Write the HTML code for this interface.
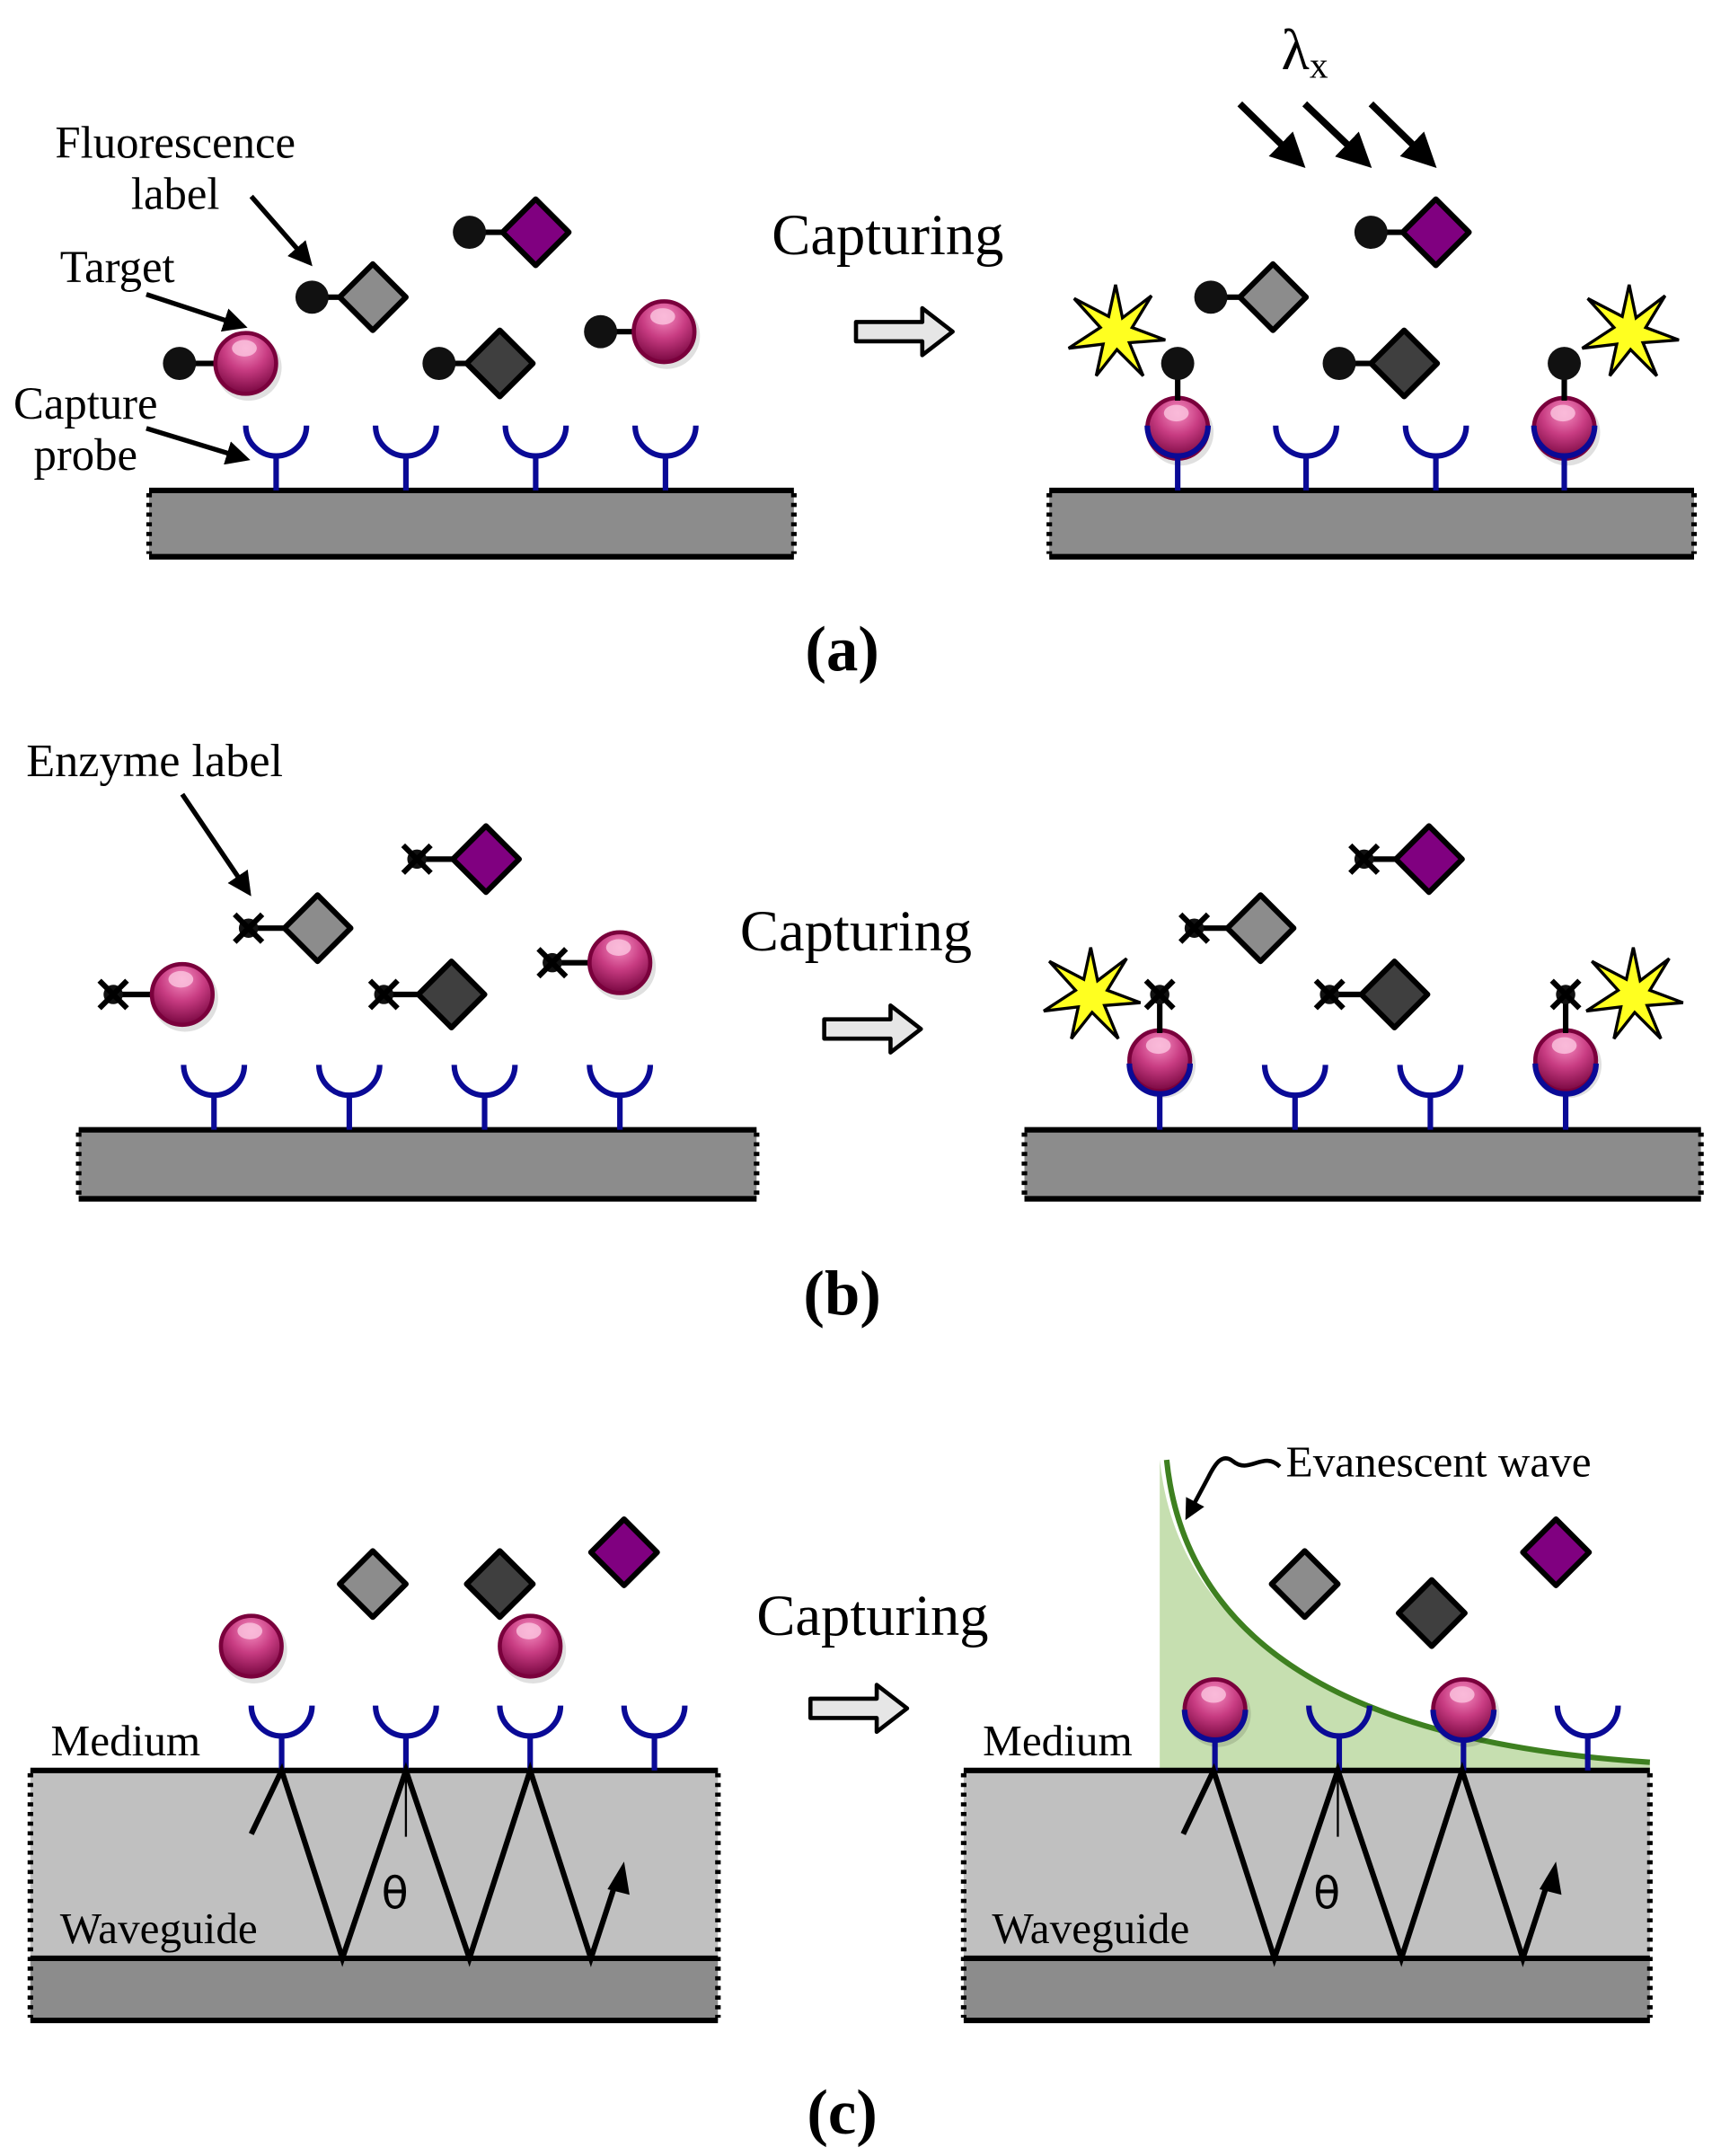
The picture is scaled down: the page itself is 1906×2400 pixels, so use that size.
<!DOCTYPE html>
<html><head><meta charset="utf-8"><style>html,body{margin:0;padding:0;background:#fff}svg{display:block}</style></head><body>
<svg width="1906" height="2400" viewBox="0 0 1240 1561" xmlns="http://www.w3.org/2000/svg" font-family="'Liberation Serif',serif">
<defs>
<radialGradient id="sp" cx="0.5" cy="0.25" r="0.8"><stop offset="0" stop-color="#f58cc0"/><stop offset="0.45" stop-color="#c83c82"/><stop offset="1" stop-color="#6e0038"/></radialGradient>
<g id="S"><circle cx="2" cy="3" r="24" fill="#000" opacity="0.12"/><circle r="22" fill="url(#sp)" stroke="#7a003c" stroke-width="3"/><ellipse cx="-1" cy="-11" rx="9" ry="6" fill="#fbc6e0" opacity="0.8"/></g>
<g id="DL"><path d="M-24 0L0-24L24 0L0 24Z" fill="#8c8c8c" stroke="#000" stroke-width="4" stroke-linejoin="round"/></g>
<g id="DD"><path d="M-24 0L0-24L24 0L0 24Z" fill="#3f3f3f" stroke="#000" stroke-width="4" stroke-linejoin="round"/></g>
<g id="DP"><path d="M-24 0L0-24L24 0L0 24Z" fill="#800080" stroke="#000" stroke-width="4" stroke-linejoin="round"/></g>
<g id="P"><path d="M-22 -22A22 22 0 0 0 22 -22" fill="none" stroke="#0a0a96" stroke-width="4"/><line x1="0" y1="0" x2="0" y2="25" stroke="#0a0a96" stroke-width="4"/></g>
<g id="E"><circle r="7" fill="#111"/><path d="M-10-10L10 10M10-10L-10 10" stroke="#000" stroke-width="4"/></g>
<g id="ST"><path d="M0-34L5-10 26-26 12-3 36 6 10 8 20 32 1 13-14 32-9 9-34 12-11-3-30-24-5-11Z" fill="#ffff20" stroke="#000" stroke-width="2.2" stroke-linejoin="miter"/></g>
<marker id="ah" viewBox="0 0 10 10" refX="8" refY="5" markerWidth="5" markerHeight="5" orient="auto"><path d="M0 0L10 5L0 10Z" fill="#000"/></marker>
<g id="HA"><path d="M0 10H48V0L70 17L48 34V24H0Z" fill="#e6e6e6" stroke="#000" stroke-width="3" stroke-linejoin="round"/></g>
</defs>

<g stroke="#000">
<rect x="108" y="355" width="467" height="48" fill="#8c8c8c" stroke="none"/>
<line x1="108" y1="355" x2="575" y2="355" stroke-width="4"/><line x1="108" y1="403" x2="575" y2="403" stroke-width="4"/>
<line x1="108" y1="357" x2="108" y2="401" stroke-width="4" stroke-dasharray="3 4"/><line x1="575" y1="357" x2="575" y2="401" stroke-width="4" stroke-dasharray="3 4"/>
<rect x="760" y="355" width="467" height="48" fill="#8c8c8c" stroke="none"/>
<line x1="760" y1="355" x2="1227" y2="355" stroke-width="4"/><line x1="760" y1="403" x2="1227" y2="403" stroke-width="4"/>
<line x1="760" y1="357" x2="760" y2="401" stroke-width="4" stroke-dasharray="3 4"/><line x1="1227" y1="357" x2="1227" y2="401" stroke-width="4" stroke-dasharray="3 4"/>

<rect x="57" y="818" width="491" height="50" fill="#8c8c8c" stroke="none"/>
<line x1="57" y1="818" x2="548" y2="818" stroke-width="4"/><line x1="57" y1="868" x2="548" y2="868" stroke-width="4"/>
<line x1="57" y1="820" x2="57" y2="866" stroke-width="4" stroke-dasharray="3 4"/><line x1="548" y1="820" x2="548" y2="866" stroke-width="4" stroke-dasharray="3 4"/>
<rect x="742" y="818" width="490" height="50" fill="#8c8c8c" stroke="none"/>
<line x1="742" y1="818" x2="1232" y2="818" stroke-width="4"/><line x1="742" y1="868" x2="1232" y2="868" stroke-width="4"/>
<line x1="742" y1="820" x2="742" y2="866" stroke-width="4" stroke-dasharray="3 4"/><line x1="1232" y1="820" x2="1232" y2="866" stroke-width="4" stroke-dasharray="3 4"/>
</g>

<!-- (a) left -->
<use href="#P" x="200" y="330"/><use href="#P" x="294" y="330"/><use href="#P" x="388" y="330"/><use href="#P" x="482" y="330"/>
<g stroke="#000" stroke-width="4"><line x1="130" y1="263" x2="160" y2="263"/><line x1="435" y1="240" x2="460" y2="240"/><line x1="226" y1="215" x2="250" y2="215"/><line x1="318" y1="263" x2="340" y2="263"/><line x1="340" y1="168" x2="365" y2="168"/></g>
<g fill="#111"><circle cx="130" cy="263" r="12"/><circle cx="435" cy="240" r="12"/><circle cx="226" cy="215" r="12"/><circle cx="318" cy="263" r="12"/><circle cx="340" cy="168" r="12"/></g>
<use href="#S" x="178" y="263"/><use href="#S" x="481" y="240"/>
<use href="#DL" x="270" y="215"/><use href="#DD" x="362" y="263"/><use href="#DP" x="388" y="168"/>
<g font-size="33" text-anchor="middle"><text x="127" y="114">Fluorescence</text><text x="127" y="151">label</text><text x="85" y="204">Target</text><text x="62" y="303">Capture</text><text x="62" y="340">probe</text></g>
<g stroke="#000" stroke-width="3.5" marker-end="url(#ah)"><line x1="182" y1="142" x2="224" y2="190"/><line x1="106" y1="213" x2="176" y2="236"/><line x1="106" y1="310" x2="178" y2="332"/></g>
<text x="643" y="184" font-size="42" text-anchor="middle">Capturing</text>
<use href="#HA" x="620" y="223"/>

<!-- (a) right -->
<use href="#P" x="946" y="330"/><use href="#P" x="1040" y="330"/>
<use href="#S" x="853" y="310"/><use href="#S" x="1133" y="310"/>
<g stroke="#0a0a96" stroke-width="4" fill="none"><path d="M831 308A22 22 0 0 0 875 308"/><line x1="853" y1="330" x2="853" y2="355"/><path d="M1111 308A22 22 0 0 0 1155 308"/><line x1="1133" y1="330" x2="1133" y2="355"/></g>
<g stroke="#000" stroke-width="4"><line x1="853" y1="263" x2="853" y2="290"/><line x1="1133" y1="263" x2="1133" y2="290"/><line x1="877" y1="215" x2="900" y2="215"/><line x1="970" y1="263" x2="995" y2="263"/><line x1="993" y1="168" x2="1018" y2="168"/></g>
<g fill="#111"><circle cx="853" cy="263" r="12"/><circle cx="1133" cy="263" r="12"/><circle cx="877" cy="215" r="12"/><circle cx="970" cy="263" r="12"/><circle cx="993" cy="168" r="12"/></g>
<use href="#DL" x="922" y="215"/><use href="#DD" x="1017" y="263"/><use href="#DP" x="1040" y="168"/>
<use href="#ST" x="808" y="240"/><use href="#ST" x="1180" y="240"/>
<text x="945" y="50" font-size="42" text-anchor="middle">λ<tspan font-size="27" dy="6">x</tspan></text>
<g stroke="#000" stroke-width="5" marker-end="url(#ah)"><line x1="898" y1="75" x2="942" y2="118"/><line x1="945" y1="75" x2="990" y2="118"/><line x1="993" y1="75" x2="1037" y2="118"/></g>
<text x="610" y="485" font-size="46" font-weight="bold" text-anchor="middle">(a)</text>

<!-- (b) left -->
<use href="#P" x="155" y="793"/><use href="#P" x="253" y="793"/><use href="#P" x="351" y="793"/><use href="#P" x="449" y="793"/>
<g stroke="#000" stroke-width="4"><line x1="82" y1="720" x2="112" y2="720"/><line x1="400" y1="697" x2="428" y2="697"/><line x1="180" y1="672" x2="208" y2="672"/><line x1="278" y1="720" x2="305" y2="720"/><line x1="302" y1="622" x2="330" y2="622"/></g>
<use href="#E" x="82" y="720"/><use href="#E" x="400" y="697"/><use href="#E" x="180" y="672"/><use href="#E" x="278" y="720"/><use href="#E" x="302" y="622"/>
<use href="#S" x="132" y="720"/><use href="#S" x="449" y="697"/>
<use href="#DL" x="230" y="672"/><use href="#DD" x="327" y="720"/><use href="#DP" x="352" y="622"/>
<text x="112" y="562" font-size="34" text-anchor="middle">Enzyme label</text>
<line x1="132" y1="575" x2="180" y2="646" stroke="#000" stroke-width="3.5" marker-end="url(#ah)"/>
<text x="620" y="688" font-size="42" text-anchor="middle">Capturing</text>
<use href="#HA" x="597" y="728"/>

<!-- (b) right -->
<use href="#P" x="938" y="793"/><use href="#P" x="1036" y="793"/>
<use href="#S" x="840" y="768"/><use href="#S" x="1134" y="768"/>
<g stroke="#0a0a96" stroke-width="4" fill="none"><path d="M818 770A22 22 0 0 0 862 770"/><line x1="840" y1="792" x2="840" y2="818"/><path d="M1112 770A22 22 0 0 0 1156 770"/><line x1="1134" y1="792" x2="1134" y2="818"/></g>
<g stroke="#000" stroke-width="4"><line x1="840" y1="720" x2="840" y2="748"/><line x1="1134" y1="720" x2="1134" y2="748"/><line x1="865" y1="672" x2="890" y2="672"/><line x1="963" y1="720" x2="988" y2="720"/><line x1="988" y1="622" x2="1012" y2="622"/></g>
<use href="#E" x="840" y="720"/><use href="#E" x="1134" y="720"/><use href="#E" x="865" y="672"/><use href="#E" x="963" y="720"/><use href="#E" x="988" y="622"/>
<use href="#DL" x="913" y="672"/><use href="#DD" x="1010" y="720"/><use href="#DP" x="1035" y="622"/>
<use href="#ST" x="790" y="720"/><use href="#ST" x="1183" y="720"/>
<text x="610" y="952" font-size="46" font-weight="bold" text-anchor="middle">(b)</text>

<!-- (c) left -->
<rect x="22" y="1282" width="498" height="136" fill="#c0c0c0"/>
<rect x="22" y="1418" width="498" height="45" fill="#8c8c8c"/>
<g stroke="#000" stroke-width="4"><line x1="22" y1="1282" x2="520" y2="1282"/><line x1="22" y1="1418" x2="520" y2="1418"/><line x1="22" y1="1463" x2="520" y2="1463"/>
<line x1="22" y1="1284" x2="22" y2="1461" stroke-dasharray="3 4"/><line x1="520" y1="1284" x2="520" y2="1461" stroke-dasharray="3 4"/></g>
<use href="#P" x="204" y="1257"/><use href="#P" x="294" y="1257"/><use href="#P" x="384" y="1257"/><use href="#P" x="474" y="1257"/>
<use href="#S" x="182" y="1192"/><use href="#S" x="384" y="1192"/>
<use href="#DL" x="270" y="1147"/><use href="#DD" x="362" y="1147"/><use href="#DP" x="452" y="1124"/>
<polyline points="182,1328 204,1282 248,1418 294,1282 340,1418 384,1282 428,1418 447,1360" fill="none" stroke="#000" stroke-width="4" stroke-linejoin="miter"/>
<path d="M452 1348L440 1368L456 1372Z" fill="#000"/>
<line x1="294" y1="1284" x2="294" y2="1330" stroke="#000" stroke-width="1.5"/>
<text x="286" y="1382" font-size="32" font-family="'DejaVu Sans',sans-serif" text-anchor="middle">θ</text>
<text x="91" y="1271" font-size="32" text-anchor="middle">Medium</text>
<text x="115" y="1407" font-size="32" text-anchor="middle">Waveguide</text>
<text x="632" y="1184" font-size="42" text-anchor="middle">Capturing</text>
<use href="#HA" x="587" y="1220"/>

<!-- (c) right -->
<path d="M840 1057Q860 1250 1195 1277L1195 1282L840 1282Z" fill="#c6dfb0"/>
<path d="M845 1057Q865 1255 1195 1276" fill="none" stroke="#3e8020" stroke-width="4"/>
<rect x="698" y="1282" width="497" height="136" fill="#c0c0c0"/>
<rect x="698" y="1418" width="497" height="45" fill="#8c8c8c"/>
<g stroke="#000" stroke-width="4"><line x1="698" y1="1282" x2="1195" y2="1282"/><line x1="698" y1="1418" x2="1195" y2="1418"/><line x1="698" y1="1463" x2="1195" y2="1463"/>
<line x1="698" y1="1284" x2="698" y2="1461" stroke-dasharray="3 4"/><line x1="1195" y1="1284" x2="1195" y2="1461" stroke-dasharray="3 4"/></g>
<use href="#P" x="970" y="1257"/><use href="#P" x="1150" y="1257"/>
<use href="#S" x="880" y="1238"/><use href="#S" x="1060" y="1238"/>
<g stroke="#0a0a96" stroke-width="4" fill="none"><path d="M858 1238A22 22 0 0 0 902 1238"/><line x1="880" y1="1260" x2="880" y2="1282"/><path d="M1038 1238A22 22 0 0 0 1082 1238"/><line x1="1060" y1="1260" x2="1060" y2="1282"/></g>
<use href="#DL" x="945" y="1147"/><use href="#DD" x="1037" y="1168"/><use href="#DP" x="1127" y="1124"/>
<polyline points="857,1328 879,1282 923,1418 969,1282 1015,1418 1059,1282 1103,1418 1122,1360" fill="none" stroke="#000" stroke-width="4"/>
<path d="M1127 1348L1115 1368L1131 1372Z" fill="#000"/>
<line x1="969" y1="1284" x2="969" y2="1330" stroke="#000" stroke-width="1.5"/>
<text x="961" y="1382" font-size="32" font-family="'DejaVu Sans',sans-serif" text-anchor="middle">θ</text>
<text x="766" y="1271" font-size="32" text-anchor="middle">Medium</text>
<text x="790" y="1407" font-size="32" text-anchor="middle">Waveguide</text>
<text x="1042" y="1069" font-size="32" text-anchor="middle">Evanescent wave</text>
<path d="M927 1062C915 1050 905 1068 893 1058C885 1052 880 1060 875 1070L860 1098" fill="none" stroke="#000" stroke-width="3" marker-end="url(#ah)"/>
<text x="610" y="1545" font-size="46" font-weight="bold" text-anchor="middle">(c)</text>
</svg>
</body></html>
